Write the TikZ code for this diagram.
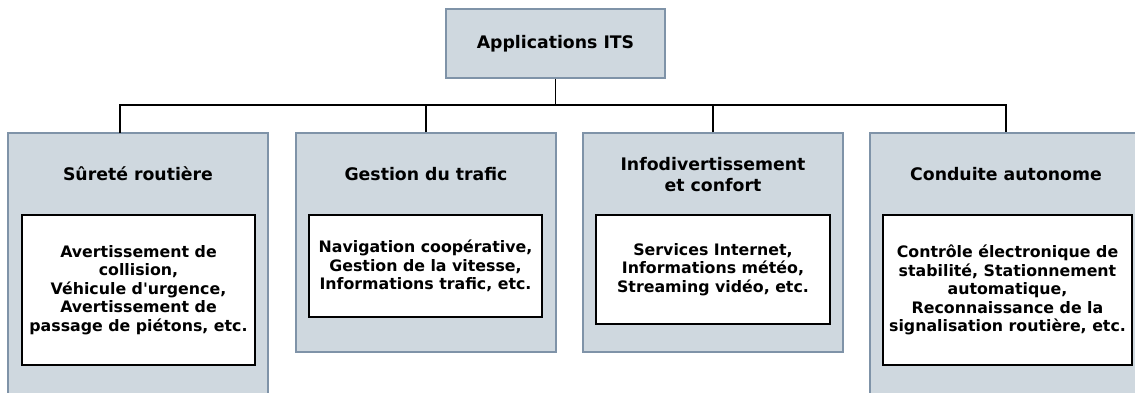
\documentclass[tikz,border=0pt]{standalone}
\usepackage{fontspec}
\setmainfont{DejaVu Sans}
\definecolor{panelfill}{HTML}{CFD8DF}
\definecolor{paneledge}{HTML}{7F93A8}
\begin{document}
\begin{tikzpicture}[x=1pt,y=-1pt,
  panel/.style={draw=paneledge, fill=panelfill, line width=1.3pt, inner sep=0pt},
  inbox/.style={draw=black, fill=white, line width=1.3pt, inner sep=0pt,
    align=center, font=\fontsize{15.8}{18.4}\selectfont\bfseries},
  heading/.style={align=center, inner sep=0pt,
    font=\fontsize{17.3}{21}\selectfont\bfseries},
  conn/.style={draw=black, line width=1.2pt}]
\useasboundingbox (0,0) rectangle (1135,392);

% root
\node[panel, minimum width=219pt, minimum height=69pt] (top) at (555.5,43.5) {};
\node[heading] (toptext) at (555.5,43.5) {Applications ITS};

% category panels
\node[panel, minimum width=260pt, minimum height=287pt] (box1) at (138,276.5) {};
\node[panel, minimum width=260pt, minimum height=219pt] (box2) at (426,242.5) {};
\node[panel, minimum width=260pt, minimum height=219pt] (box3) at (713,242.5) {};
\node[panel, minimum width=272pt, minimum height=287pt] (box4) at (1006,276.5) {};

% category headings
\node[heading] (head1) at (138,174) {Sûreté routière};
\node[heading] (head2) at (426,174) {Gestion du trafic};
\node[heading] (head3) at (713,175) {Infodivertissement\\et confort};
\node[heading] (head4) at (1006,174) {Conduite autonome};

% example boxes
\node[inbox, minimum width=233pt, minimum height=150pt] (ex1) at (138.5,290)
  {Avertissement de\\collision,\\Véhicule d\textquotesingle urgence,\\Avertissement de\\passage de piétons, etc.};
\node[inbox, minimum width=233pt, minimum height=102pt] (ex2) at (425.5,266)
  {Navigation coopérative,\\Gestion de la vitesse,\\Informations trafic, etc.};
\node[inbox, minimum width=234pt, minimum height=109pt] (ex3) at (713,269.5)
  {Services Internet,\\Informations météo,\\Streaming vidéo, etc.};
\node[inbox, minimum width=249pt, minimum height=150pt] (ex4) at (1007.5,290)
  {Contrôle électronique de\\stabilité, Stationnement\\automatique,\\Reconnaissance de la\\signalisation routière, etc.};

% tree connectors
\coordinate (bus) at (555.5,105);
\coordinate (drop1) at (120,133);
\draw[conn] (top.south) -- (bus);
\draw[conn] (drop1) |- (bus) -| (box4.north);
\draw[conn] (box2.north) -- (box2.north |- bus);
\draw[conn] (box3.north) -- (box3.north |- bus);
\end{tikzpicture}
\end{document}
